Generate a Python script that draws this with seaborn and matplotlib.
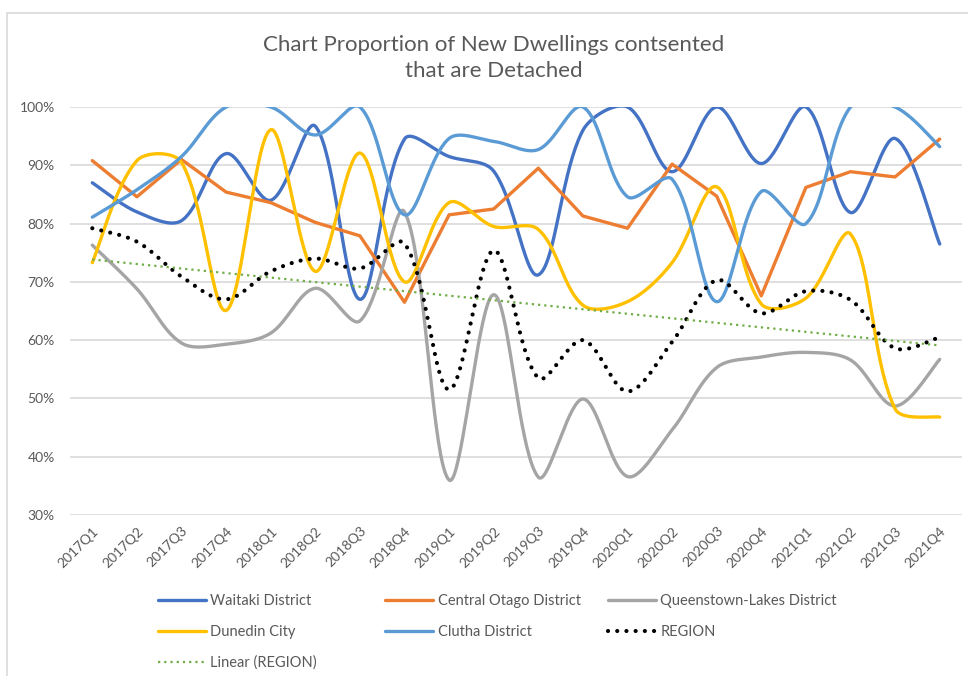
import numpy as np
import pandas as pd
import matplotlib
matplotlib.use("Agg")
import matplotlib.pyplot as plt
import seaborn as sns
from matplotlib.ticker import PercentFormatter
from matplotlib.patches import Rectangle

# Data (% of new dwellings consented that are detached)
quarters = ["2017Q1", "2017Q2", "2017Q3", "2017Q4", "2018Q1", "2018Q2", "2018Q3", "2018Q4",
            "2019Q1", "2019Q2", "2019Q3", "2019Q4", "2020Q1", "2020Q2", "2020Q3", "2020Q4",
            "2021Q1", "2021Q2", "2021Q3", "2021Q4"]
waitaki = [87, 82, 80.5, 92, 84, 96.7, 67, 94.5, 91.5, 89, 71.2, 96, 100, 88.9, 100, 90.3, 100, 81.9, 94.6, 76.5]
central_otago = [90.8, 84.6, 91.0, 85.4, 83.6, 80.2, 77.9, 66.5, 81.5, 82.5, 89.5, 81.3, 79.2, 90.2, 84.7, 67.6, 86.2, 88.9, 88.0, 94.5]
queenstown = [76.3, 68.8, 59.5, 59.3, 61.2, 68.9, 63.3, 82.0, 36.0, 67.8, 36.5, 49.9, 36.6, 44.6, 55.3, 57.1, 57.9, 56.6, 48.7, 56.7]
dunedin = [73.3, 90.8, 90.5, 65.1, 96.1, 71.8, 92.1, 70.0, 83.6, 79.5, 79.0, 66.0, 66.6, 73.3, 86.3, 66.2, 67.2, 78.2, 48.2, 46.8]
clutha = [81.1, 85.8, 91.5, 100, 100, 95.2, 100, 81.5, 94.6, 94.1, 92.7, 100, 84.6, 87.6, 66.6, 85.5, 80.0, 100, 100, 93.2]
region = [79.2, 76.9, 70.9, 67.0, 71.8, 74.0, 72.3, 76.6, 51.5, 75.4, 53.5, 60.0, 51.2, 59.7, 70.3, 64.6, 68.4, 66.9, 58.6, 60.5]

series = [
    ("Waitaki District", waitaki, "#4472C4", True),
    ("Central Otago District", central_otago, "#ED7D31", False),
    ("Queenstown-Lakes District", queenstown, "#A5A5A5", True),
    ("Dunedin City", dunedin, "#FFC000", True),
    ("Clutha District", clutha, "#5B9BD5", True),
]

GRID = "#D9D9D9"
TEXT = "#595959"
# pixel size of one x step and of one percentage point, used for screen-space smoothing
XPX, YPX = 44.6, 5.83


def smooth(y, n=40):
    # Excel-like smoothed line: cubic bezier, tangent along the neighbour chord,
    # split between the two sides in proportion to the segment lengths (screen space)
    p = np.column_stack([np.arange(len(y)) * XPX, np.asarray(y, dtype=float) * YPX])
    m = len(p)
    seg = np.linalg.norm(np.diff(p, axis=0), axis=1)
    out_c, in_c = [], []
    for i in range(m):
        if i == 0 or i == m - 1:
            d = p[min(i + 1, m - 1)] - p[max(i - 1, 0)]
            out_c.append(p[i] + d / 6)
            in_c.append(p[i] - d / 6)
            continue
        d = p[i + 1] - p[i - 1]
        l_in, l_out = seg[i - 1], seg[i]
        out_c.append(p[i] + d * l_out / (l_in + l_out) / 3)
        in_c.append(p[i] - d * l_in / (l_in + l_out) / 3)
    out = []
    t = np.linspace(0, 1, n)[:, None]
    for i in range(m - 1):
        p1, c1, c2, p2 = p[i], out_c[i], in_c[i + 1], p[i + 1]
        s = (1 - t) ** 3 * p1 + 3 * (1 - t) ** 2 * t * c1 + 3 * (1 - t) * t ** 2 * c2 + t ** 3 * p2
        out.append(s if i == 0 else s[1:])
    pts = np.vstack(out)
    return pts[:, 0] / XPX, pts[:, 1] / YPX


sns.set_theme(style="white")
plt.rcParams["font.family"] = ["Lato", "DejaVu Sans"]

fig = plt.figure(figsize=(9.68, 6.76), dpi=100)
ax = fig.add_axes([70 / 968, 1 - 515 / 676, 892 / 968, 408 / 676])

for name, vals, color, is_smooth in series:
    if is_smooth:
        xs, ys = smooth(vals)
    else:
        xs, ys = np.arange(len(vals)), np.asarray(vals)
    sns.lineplot(x=xs, y=ys, ax=ax, color=color, lw=2.4, label=name,
                 estimator=None, sort=False, solid_capstyle="round")

xs, ys = smooth(region)
sns.lineplot(x=xs, y=ys, ax=ax, color="black", lw=3.0, label="REGION",
             estimator=None, sort=False)
ax.lines[-1].set_linestyle((0, (0.01, 2.2)))
ax.lines[-1].set_dash_capstyle("round")

# linear trendline of REGION
idx = np.arange(len(region))
slope, intercept = np.polyfit(idx, region, 1)
trend = pd.DataFrame({"x": idx, "y": slope * idx + intercept})
sns.lineplot(data=trend, x="x", y="y", ax=ax, color="#70AD47", lw=1.6,
             label="Linear (REGION)", estimator=None)
ax.lines[-1].set_linestyle((0, (1, 1.8)))

ax.set_xlim(-0.5, len(quarters) - 0.5)
ax.set_ylim(30, 100)
ax.set_yticks(np.arange(30, 101, 10))
ax.yaxis.set_major_formatter(PercentFormatter(xmax=100, decimals=0))
ax.set_xticks(idx)
ax.set_xticklabels(quarters, rotation=45, ha="right", va="top", rotation_mode="anchor")
ax.tick_params(axis="both", length=0, labelsize=10, labelcolor=TEXT)
ax.tick_params(axis="y", pad=11)
ax.tick_params(axis="x", pad=7)
ax.grid(axis="y", color=GRID, lw=1.2)
ax.grid(axis="x", visible=False)
for s in ax.spines.values():
    s.set_visible(False)
ax.set_xlabel("")
ax.set_ylabel("")

handles, labels = ax.get_legend_handles_labels()
ax.get_legend().remove()
h = dict(zip(labels, handles))

cols = [
    (["Waitaki District", "Dunedin City", "Linear (REGION)"], 158),
    (["Central Otago District", "Clutha District"], 385),
    (["Queenstown-Lakes District", "REGION"], 608),
]
for names, xpix in cols:
    leg = fig.legend([h[n] for n in names], names, loc="upper left",
                     bbox_to_anchor=(xpix / 968, 1 - 594 / 676), frameon=False,
                     fontsize=10.5, handlelength=3.3, handletextpad=0.3,
                     labelspacing=1.15, borderpad=0, borderaxespad=0)
    for txt in leg.get_texts():
        txt.set_color(TEXT)

fig.text(494 / 968, 1 - 58 / 676,
         "Chart Proportion of New Dwellings contsented\nthat are Detached",
         ha="center", va="center", fontsize=16, color=TEXT, linespacing=1.35)

# chart area border
fig.patches.append(Rectangle((7 / 968, -0.1), 1.5, 1 - 13 / 676 + 0.1,
                             transform=fig.transFigure, fill=False,
                             edgecolor=GRID, lw=1.2))

plt.savefig("out.png", dpi=100)
plt.close()
